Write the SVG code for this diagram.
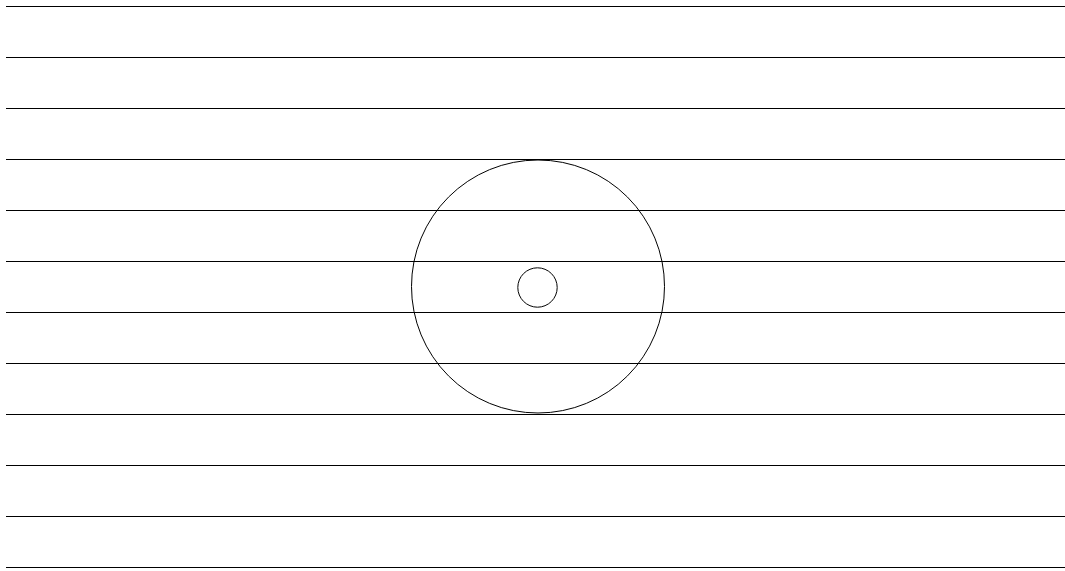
<svg xmlns="http://www.w3.org/2000/svg" width="1065" height="571" viewBox="0 0 1065 571">
<style>
.l{stroke:#000;stroke-width:1;fill:none}
.c{stroke:#000;stroke-width:1;fill:none}
</style>
<rect width="1065" height="571" fill="#fff"/>
<g id="lines">
<line class="l" x1="6" y1="6.5" x2="1065" y2="6.5"/>
<line class="l" x1="6" y1="57.5" x2="1065" y2="57.5"/>
<line class="l" x1="6" y1="108.5" x2="1065" y2="108.5"/>
<line class="l" x1="6" y1="159.5" x2="1065" y2="159.5"/>
<line class="l" x1="6" y1="210.5" x2="1065" y2="210.5"/>
<line class="l" x1="6" y1="261.5" x2="1065" y2="261.5"/>
<line class="l" x1="6" y1="312.5" x2="1065" y2="312.5"/>
<line class="l" x1="6" y1="363.5" x2="1065" y2="363.5"/>
<line class="l" x1="6" y1="414.5" x2="1065" y2="414.5"/>
<line class="l" x1="6" y1="465.5" x2="1065" y2="465.5"/>
<line class="l" x1="6" y1="516.5" x2="1065" y2="516.5"/>
<line class="l" x1="6" y1="567.5" x2="1065" y2="567.5"/>
</g>
<g id="outer-circle"><circle class="c" cx="538" cy="286.5" r="126.5"/></g>
<g id="inner-circle"><circle class="c" cx="537.5" cy="287.5" r="19.7"/></g>
</svg>
